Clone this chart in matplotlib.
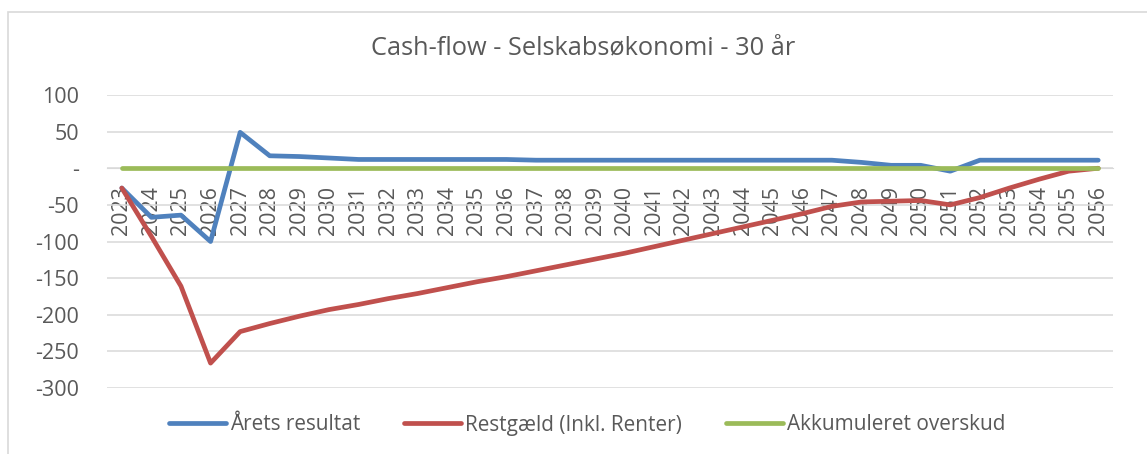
import matplotlib
matplotlib.use("Agg")
import matplotlib.pyplot as plt
from matplotlib.patches import Rectangle
from matplotlib.ticker import FuncFormatter

years = [str(y) for y in range(2023, 2057)]
aarets_resultat = [-27, -67, -64, -100, 49, 17, 16, 14, 12, 12, 12, 12, 12, 12, 11, 11,
                   11, 11, 11, 11, 11, 11, 11, 11, 11, 8, 4, 4, -4, 11, 11, 11, 11, 11]
restgaeld = [-27, -93, -161, -266, -223, -212, -202, -193, -186, -178, -171, -163, -155,
             -148, -140, -132, -124, -116, -107, -98, -89, -80, -71, -62, -52, -46, -45,
             -44, -50, -40, -27, -15, -4, 0]
akkumuleret = [0] * 34
yticks = [100, 50, 0, -50, -100, -150, -200, -250, -300]
labels = ['Årets resultat', 'Restgæld (Inkl. Renter)', 'Akkumuleret overskud']
title = 'Cash-flow - Selskabsøkonomi - 30 år'

FONT = ['Open Sans', 'DejaVu Sans']
plt.rcParams['font.family'] = FONT
TXT = '#595959'

fig = plt.figure(figsize=(11.47, 4.54), dpi=100)


def fit(text, target_px, fs0=14):
    t = fig.text(0, 0, text, fontsize=fs0)
    fig.canvas.draw()
    w = t.get_window_extent().width
    t.remove()
    return fs0 * target_px / w


fs_tick = fit('-100', 44)
fs_leg = fit('Restgæld (Inkl. Renter)', 217)
fs_title = fit(title, 427)

fig.patches.append(Rectangle((8/1147, -0.2), 1.2, 1.2 - 12/454, transform=fig.transFigure,
                             fill=False, edgecolor='#D9D9D9', linewidth=1.2, zorder=0))

ax = fig.add_axes([107/1147, 66/454, (1113-107)/1147, (388-95)/454])
x = list(range(len(years)))
lw = 3.4
l1, = ax.plot(x, aarets_resultat, color='#4F81BD', lw=lw, solid_capstyle='round', zorder=3)
l2, = ax.plot(x, restgaeld, color='#C0504D', lw=lw, solid_capstyle='round', zorder=3)
l3, = ax.plot(x, akkumuleret, color='#9BBB59', lw=lw, solid_capstyle='round', zorder=4)

ax.set_xlim(-0.5, len(years) - 0.5)
ax.set_ylim(-300, 100)
ax.set_yticks(yticks)
ax.yaxis.set_major_formatter(FuncFormatter(lambda v, p: '-' if v == 0 else f'{int(v)}'))
ax.grid(axis='y', color='#D9D9D9', lw=1.1, zorder=0)
ax.set_axisbelow(True)
for s in ['top', 'right', 'left']:
    ax.spines[s].set_visible(False)
ax.spines['bottom'].set_position(('data', 0))
ax.spines['bottom'].set_color('#D9D9D9')
ax.set_xticks(x)
ax.set_xticklabels(years, rotation=90, va='top', ha='center')
ax.tick_params(axis='x', length=0, pad=13, labelsize=fs_tick, labelcolor=TXT)
ax.tick_params(axis='y', length=0, pad=20, labelsize=fs_tick, labelcolor=TXT)

fig.text(583/1147, 1 - 48/454, title, ha='center', va='center',
         fontsize=fs_title, color=TXT)

em = fs_leg * 100 / 72
fig.legend([l1, l2, l3], labels,
           loc='center', bbox_to_anchor=(587/1147, 1 - 425/454), ncol=3, frameon=False,
           fontsize=fs_leg, handlelength=57/em, handletextpad=4/em, columnspacing=44/em,
           labelcolor=TXT)

fig.savefig('out.png', dpi=100)
